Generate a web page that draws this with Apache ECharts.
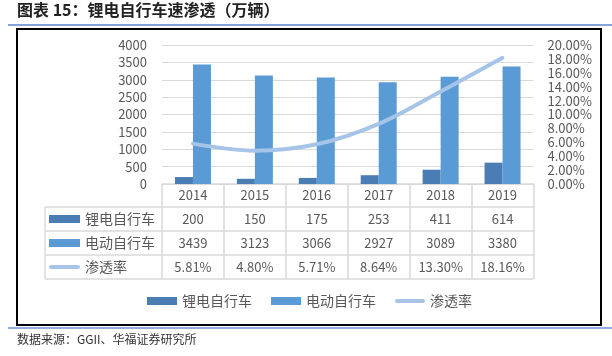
<!DOCTYPE html>
<html>
<head>
<meta charset="utf-8">
<script src="https://cdn.jsdelivr.net/npm/echarts@6/dist/echarts.min.js"></script>
<style>
html,body{margin:0;padding:0;background:#fff;}
#chart{width:612px;height:356px;}
</style>
</head>
<body>
<div id="chart"></div>
<script>
const titleText = '图表 15：锂电自行车速渗透（万辆）';
const sourceText = '数据来源：GGII、华福证券研究所';
const categories = ['2014', '2015', '2016', '2017', '2018', '2019'];
const seriesNames = ['锂电自行车', '电动自行车', '渗透率'];
const lithiumBikes = [200, 150, 175, 253, 411, 614];
const electricBikes = [3439, 3123, 3066, 2927, 3089, 3380];
const penetrationRate = [5.81, 4.80, 5.71, 8.64, 13.30, 18.16];
const leftAxis = { min: 0, max: 4000, interval: 500 };
const rightAxis = { min: 0, max: 20, interval: 2 };

const FONT = '"Noto Sans CJK SC", "Noto Sans", sans-serif';
const GRAY = '#595959';
const LINE_GRAY = '#d9d9d9';
const colors = ['#4a7db3', '#5b9bd5', '#a6c4e8'];
const lineIcon = 'path://M2,0L28,0A2,2 0 0 1 28,4L2,4A2,2 0 0 1 2,0Z';

const chart = echarts.init(document.getElementById('chart'), null, { renderer: 'canvas' });

// table frame geometry (not data)
const tblLeft = 45, tblRight = 533.5;
const rowLines = [207, 231, 255, 279];

const graphics = [
  { type: 'line', shape: { x1: 8, y1: 25, x2: 612, y2: 25 }, style: { stroke: '#85a3d6', lineWidth: 2 } },
  { type: 'rect', shape: { x: 17, y: 29, width: 584, height: 296 }, style: { fill: 'none', stroke: '#000', lineWidth: 2 } },
  { type: 'line', shape: { x1: 8, y1: 328, x2: 612, y2: 328 }, style: { stroke: '#6f93cf', lineWidth: 1.5 } },
  { type: 'line', shape: { x1: tblLeft, y1: rowLines[0], x2: tblLeft, y2: rowLines[3] }, style: { stroke: LINE_GRAY, lineWidth: 1.5 } }
];
rowLines.forEach(y => graphics.push({ type: 'line', shape: { x1: tblLeft, y1: y, x2: tblRight, y2: y }, style: { stroke: LINE_GRAY, lineWidth: 1.5 } }));

const legendData = [
  { name: seriesNames[0], icon: 'rect' },
  { name: seriesNames[1], icon: 'rect' },
  { name: seriesNames[2], icon: lineIcon }
];

chart.setOption({
  animation: false,
  color: colors,
  textStyle: { fontFamily: FONT },
  title: [
    { text: titleText, left: 17, top: 2, padding: 0,
      textStyle: { fontSize: 16, fontWeight: 'bold', color: '#222', fontFamily: FONT } },
    { text: sourceText, left: 17, top: 333, padding: 0,
      textStyle: { fontSize: 12, fontWeight: 'normal', color: '#333', fontFamily: FONT } }
  ],
  grid: { left: 162, right: 78.5, top: 45, bottom: 172, containLabel: false },
  legend: [
    { orient: 'vertical', left: 49, top: 207, padding: 0, itemGap: 0, itemWidth: 31, itemHeight: 8,
      selectedMode: false, symbolKeepAspect: true,
      textStyle: { color: GRAY, fontSize: 14, lineHeight: 24, fontFamily: FONT },
      data: legendData },
    { orient: 'horizontal', left: 147, top: 293, padding: 0, itemGap: 19, itemWidth: 30, itemHeight: 8,
      selectedMode: false, symbolKeepAspect: true,
      textStyle: { color: GRAY, fontSize: 14, lineHeight: 16, fontFamily: FONT },
      data: legendData }
  ],
  xAxis: {
    type: 'category',
    data: categories,
    boundaryGap: true,
    axisLine: { show: true, lineStyle: { color: LINE_GRAY, width: 1.5 } },
    axisTick: { show: true, interval: 0, length: 95, lineStyle: { color: LINE_GRAY, width: 1.5 } },
    splitLine: { show: false },
    axisLabel: {
      interval: 0, margin: -1, lineHeight: 24,
      formatter: (v, i) => `{y|${v}}\n{v|${lithiumBikes[i]}}\n{v|${electricBikes[i]}}\n{v|${penetrationRate[i].toFixed(2)}%}`,
      rich: {
        y: { fontSize: 13, color: GRAY, lineHeight: 24, fontFamily: FONT },
        v: { fontSize: 13, color: GRAY, lineHeight: 24, fontFamily: FONT }
      }
    }
  },
  yAxis: [
    { type: 'value', min: leftAxis.min, max: leftAxis.max, interval: leftAxis.interval,
      axisLine: { show: false }, axisTick: { show: false },
      splitLine: { show: true, lineStyle: { color: LINE_GRAY, width: 1 } },
      axisLabel: { color: GRAY, fontSize: 13, margin: 15, fontFamily: FONT,
        formatter: v => String(v) } },
    { type: 'value', min: rightAxis.min, max: rightAxis.max, interval: rightAxis.interval,
      axisLine: { show: false }, axisTick: { show: false }, splitLine: { show: false },
      axisLabel: { color: GRAY, fontSize: 13, margin: 14, fontFamily: FONT,
        formatter: v => v.toFixed(2) + '%' } }
  ],
  series: [
    { name: seriesNames[0], type: 'bar', data: lithiumBikes, barWidth: 18, barGap: '0%',
      itemStyle: { color: colors[0] } },
    { name: seriesNames[1], type: 'bar', data: electricBikes, barWidth: 18, barGap: '0%',
      itemStyle: { color: colors[1] } },
    { name: seriesNames[2], type: 'line', yAxisIndex: 1, data: penetrationRate, smooth: 0.35,
      showSymbol: false, symbol: 'none', z: 5,
      lineStyle: { color: colors[2], width: 4, cap: 'round' }, itemStyle: { color: colors[2] } }
  ],
  graphic: graphics
});
</script>
</body>
</html>
